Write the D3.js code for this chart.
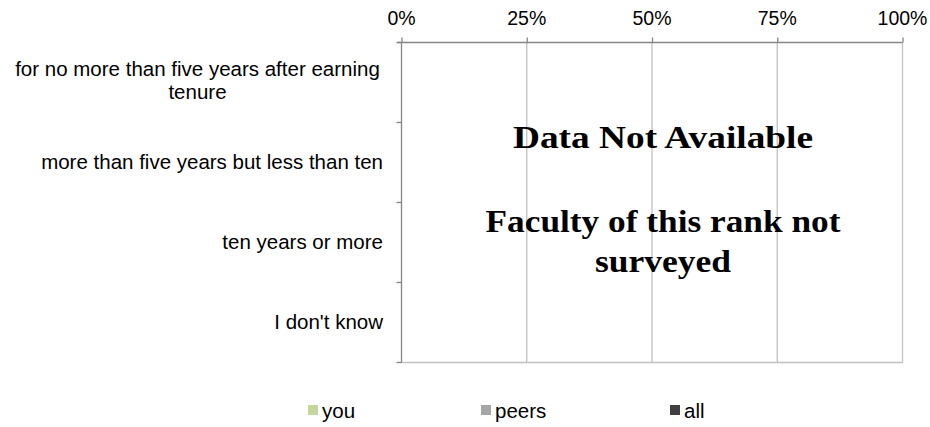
<!DOCTYPE html>
<html><head><meta charset="utf-8">
<script src="https://cdn.jsdelivr.net/npm/d3@7"></script>
<style>body{margin:0;background:#fff}svg{display:block}
.sans{font-family:"Liberation Sans", Arial, sans-serif;font-size:20.5px;fill:#000}
.tick .sans{font-size:19.5px}
.serif{font-family:"Liberation Serif","Times New Roman",serif;font-weight:bold;font-size:31px;fill:#000}
</style>
</head><body><svg id="c" width="930" height="427"></svg>
<script>
const categories = [["for no more than five years after earning","tenure"],["more than five years but less than ten"],["ten years or more"],["I don't know"]];
const seriesNames = ["you","peers","all"];
const seriesColors = ["#c3d69b","#a6a6a6","#404040"];
const youValues = [null,null,null,null];
const peersValues = [null,null,null,null];
const allValues = [null,null,null,null];
const tickValues = [0,0.25,0.5,0.75,1];
const notice = [["Data Not Available"],["Faculty of this rank not","surveyed"]];

const svg = d3.select("#c");
const m = {l:401, r:902, t:42, b:362};
const x = d3.scaleLinear().domain([0,1]).range([m.l,m.r]);
const y = d3.scaleBand().domain(d3.range(categories.length)).range([m.t,m.b]);

svg.append("g").selectAll("line").data(tickValues.slice(1)).join("line")
  .attr("x1",d=>x(d)+0.5).attr("x2",d=>x(d)+0.5).attr("y1",m.t).attr("y2",m.b)
  .attr("stroke","#c0c0c0").attr("stroke-width",1.3);
svg.append("line").attr("x1",m.l).attr("x2",m.r+1).attr("y1",m.b+0.5).attr("y2",m.b+0.5)
  .attr("stroke","#c0c0c0").attr("stroke-width",1.3);

const series = [youValues,peersValues,allValues];
const inner = d3.scaleBand().domain(d3.range(3)).range([0,y.bandwidth()]).padding(0.3);
series.forEach((vals,si)=>{
  svg.append("g").selectAll("rect").data(vals.map((v,i)=>({v,i})).filter(d=>d.v!=null)).join("rect")
    .attr("x",x(0)).attr("y",d=>y(d.i)+inner(si)).attr("width",d=>x(d.v)-x(0)).attr("height",inner.bandwidth())
    .attr("fill",seriesColors[si]);
});

const xa = svg.append("g").attr("transform",`translate(0,${m.t+0.5})`)
  .call(d3.axisTop(x).tickValues(tickValues).tickFormat(d3.format(".0%")).tickSize(5).tickSizeOuter(0));
xa.attr("font-size",null).attr("font-family",null);
xa.select(".domain").attr("stroke","#868686").attr("stroke-width",1.3).attr("d",`M${m.l-4},0H${m.r+0.5}`);
xa.selectAll(".tick line").attr("stroke","#868686").attr("stroke-width",1.3).attr("transform","translate(0.5,0)");
xa.selectAll(".tick text").attr("class","sans").attr("fill",null).attr("y",-17.5).attr("dy",null);

const ya = svg.append("g").attr("transform",`translate(${m.l+0.5},0)`);
ya.append("line").attr("x1",0).attr("x2",0).attr("y1",m.t).attr("y2",m.b+0.5).attr("stroke","#868686").attr("stroke-width",1.3);
ya.selectAll(".tk").data(d3.range(categories.length+1)).join("line")
  .attr("x1",-5).attr("x2",0)
  .attr("y1",d=>(d<categories.length?y(d):m.b)+0.5).attr("y2",d=>(d<categories.length?y(d):m.b)+0.5)
  .attr("stroke","#868686").attr("stroke-width",1.3);

const lab = svg.append("g");
categories.forEach((lines,i)=>{
  const cy = y(i)+y.bandwidth()/2;
  const lh = 23;
  const t = lab.append("text").attr("class","sans").attr("text-anchor", lines.length>1 ? "middle" : "end");
  lines.forEach((s,j)=>{
    t.append("tspan").attr("x", lines.length>1 ? 197.5 : 383)
      .attr("y", cy + (j-(lines.length-1)/2)*lh + (lines.length>1 ? 5 : 7)).text(s);
  });
});

const nt = svg.append("g").attr("text-anchor","middle");
const noticeY = [[148],[232,272]];
const noticeW = [[300],[355,136]];
notice.forEach((lines,i)=>lines.forEach((s,j)=>nt.append("text").attr("class","serif")
  .attr("x",663).attr("y",noticeY[i][j]).attr("textLength",noticeW[i][j]).attr("lengthAdjust","spacingAndGlyphs").text(s)));

const legX = [308,481,670];
const lg = svg.append("g");
seriesNames.forEach((n,i)=>{
  lg.append("rect").attr("x",legX[i]).attr("y",405).attr("width",10).attr("height",10).attr("fill",seriesColors[i]);
  lg.append("text").attr("class","sans").attr("x",legX[i]+14).attr("y",418).text(n);
});
</script></body></html>
